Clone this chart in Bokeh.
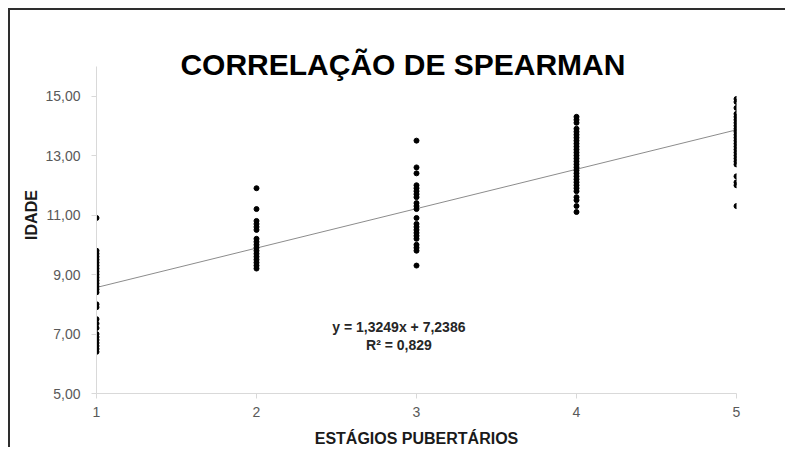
from bokeh.plotting import figure
from bokeh.models import Range1d, FixedTicker, Label
from bokeh.embed import file_html
from bokeh.resources import INLINE

# ---- data ----
stage_1 = [10.9, 9.8, 9.7, 9.6, 9.5, 9.4, 9.3, 9.2, 9.1, 9.0, 8.9, 8.8, 8.7, 8.6,
           8.5, 8.4, 8.0, 7.9, 7.5, 7.35, 7.2, 7.0, 6.9, 6.8, 6.7, 6.6, 6.5, 6.4]
stage_2 = [11.9, 11.2, 10.8, 10.7, 10.6, 10.5, 10.2, 10.1, 10.0, 9.9, 9.8, 9.7,
           9.6, 9.5, 9.4, 9.3, 9.2]
stage_3 = [13.5, 12.6, 12.4, 12.0, 11.9, 11.8, 11.7, 11.6, 11.4, 11.3, 11.2, 10.9,
           10.7, 10.6, 10.5, 10.4, 10.3, 10.2, 10.0, 9.9, 9.8, 9.3]
stage_4 = [14.3, 14.2, 14.1, 13.9, 13.8, 13.7, 13.6, 13.5, 13.4, 13.3, 13.2, 13.1,
           13.0, 12.9, 12.8, 12.7, 12.6, 12.5, 12.4, 12.3, 12.2, 12.1, 12.0, 11.9,
           11.8, 11.6, 11.5, 11.3, 11.1]
stage_5 = [14.9, 14.8, 14.6, 14.4, 14.3, 14.2, 14.1, 14.0, 13.9, 13.8, 13.7, 13.6,
           13.5, 13.4, 13.3, 13.2, 13.1, 13.0, 12.9, 12.8, 12.7, 12.3, 12.1, 12.0, 11.3]
stages = [1, 2, 3, 4, 5]
slope = 1.3249
intercept = 7.2386
r2_text = "R² = 0,829"
eq_text = "y = 1,3249x + 7,2386"
y_ticks = [5, 7, 9, 11, 13, 15]
y_tick_labels = ["5,00", "7,00", "9,00", "11,00", "13,00", "15,00"]
x_tick_labels = ["1", "2", "3", "4", "5"]
title_text = "CORRELAÇÃO DE SPEARMAN"
x_label = "ESTÁGIOS PUBERTÁRIOS"
y_label = "IDADE"

xs, ys = [], []
for s, vals in zip(stages, [stage_1, stage_2, stage_3, stage_4, stage_5]):
    xs += [s] * len(vals)
    ys += vals

p = figure(width=777, height=439, output_backend="svg", toolbar_location=None,
           x_range=Range1d(1, 5), y_range=Range1d(5, 17),
           min_border_left=86, min_border_right=51, min_border_top=26,
           min_border_bottom=51)
p.styles = {"border-top": "2px solid #2e2e2e", "border-left": "2px solid #2e2e2e",
            "margin-left": "8px", "margin-top": "8px"}
p.outline_line_color = None
p.grid.visible = False
p.background_fill_color = "white"
p.border_fill_color = "white"

# trend line
lx = [stages[0], stages[-1]]
p.line(lx, [slope * v + intercept for v in lx], line_color="#8c8c8c", line_width=1)

p.scatter(xs, ys, size=5, color="black")

for ax in (p.xaxis[0], p.yaxis[0]):
    ax.axis_line_color = "#d9d9d9"
    ax.major_tick_line_color = "#d9d9d9"
    ax.major_tick_in = 0
    ax.major_tick_out = 5
    ax.minor_tick_line_color = None
    ax.major_label_text_font = "Liberation Sans"
    ax.major_label_text_font_size = "14px"
    ax.major_label_text_color = "#595959"
    ax.axis_label_text_font = "Liberation Sans"
    ax.axis_label_text_font_style = "bold"
    ax.axis_label_text_font_size = "16px"
    ax.axis_label_text_color = "#1a1a1a"

p.xaxis.ticker = FixedTicker(ticks=stages)
p.xaxis.major_label_overrides = dict(zip(stages, x_tick_labels))
p.yaxis.ticker = FixedTicker(ticks=y_ticks)
p.yaxis.major_label_overrides = dict(zip(y_ticks, y_tick_labels))
p.yaxis.bounds = (5, 16)
p.xaxis.axis_label = x_label
p.yaxis.axis_label = y_label
p.xaxis.major_label_standoff = 8
p.xaxis.axis_label_standoff = 10
p.yaxis.major_label_standoff = 11
p.yaxis.axis_label_standoff = 2

p.add_layout(Label(x=2.915, y=16.07, text=title_text, text_align="center",
                   text_baseline="middle", text_font="Liberation Sans",
                   text_font_style="bold", text_font_size="30px",
                   text_color="black"))
p.add_layout(Label(x=2.89, y=7.24, text=eq_text, text_align="center",
                   text_baseline="middle", text_font="Liberation Sans",
                   text_font_style="bold", text_font_size="14px",
                   text_color="#262626"))
p.add_layout(Label(x=2.89, y=6.64, text=r2_text, text_align="center",
                   text_baseline="middle", text_font="Liberation Sans",
                   text_font_style="bold", text_font_size="14px",
                   text_color="#262626"))

open("out.html", "w").write(file_html(p, INLINE))
